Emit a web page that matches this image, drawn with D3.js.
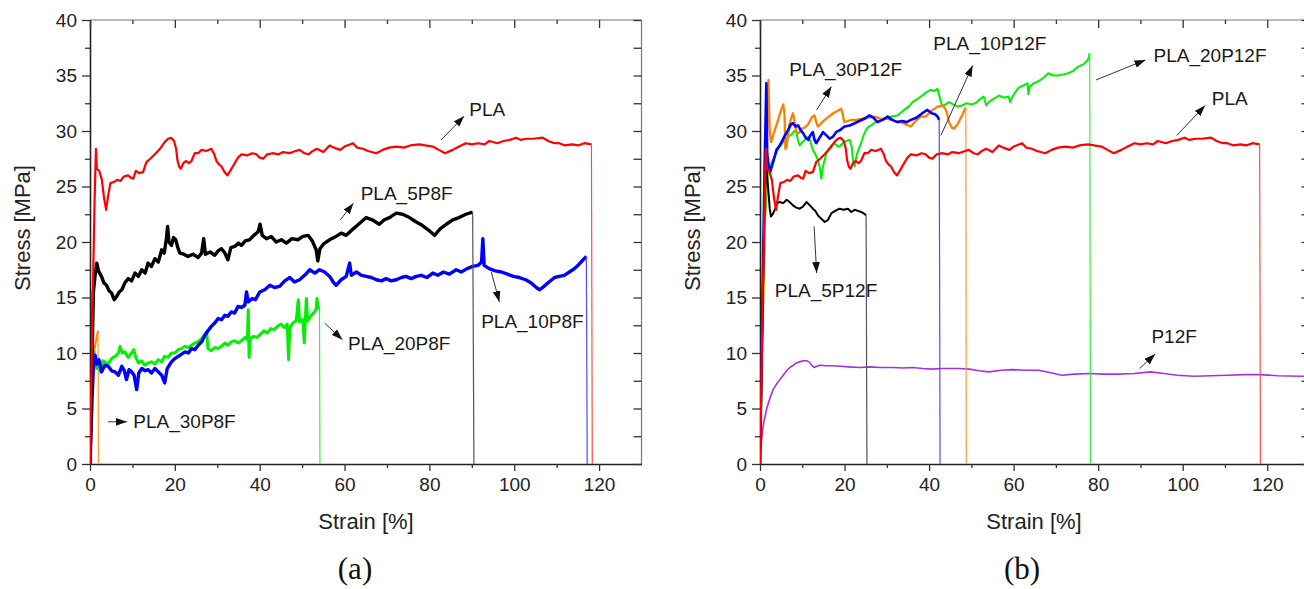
<!DOCTYPE html>
<html>
<head>
<meta charset="utf-8">
<script src="https://cdn.jsdelivr.net/npm/d3@7/dist/d3.min.js"></script>
<style>
  body { margin: 0; background: #fff; }
  svg { display: block; font-family: 'Liberation Sans', Arial, sans-serif; }
</style>
</head>
<body>
<svg id="chart" width="1304" height="589"></svg>
<script>
// ---- data: [strain %, stress MPa] ----
const yMajor = [0, 5, 10, 15, 20, 25, 30, 35, 40]
const yMinor = [2.5, 7.5, 12.5, 17.5, 22.5, 27.5, 32.5, 37.5]
const xMajor = [0, 20, 40, 60, 80, 100, 120]
const xMinor = [10, 30, 50, 70, 90, 110]

// neat PLA, same specimen in both panels
const pla = [[0,0],[0.6,14],[1.1,24],[1.4,28.4],[1.6,26.6],[2.2,26.4],[2.8,25.6],[3.3,24.0],[3.8,22.9],
  [4.3,24.2],[4.8,25.3],[5.6,25.4],[6.4,25.6],[7.2,25.5],[8.0,25.9],[9.0,26.0],[9.6,25.8],[10.2,25.7],
  [10.8,26.4],[11.6,26.2],[12.5,26.3],[13.3,27.2],[14.2,27.5],[15.3,27.9],[16.5,28.4],[17.6,29.0],
  [18.4,29.3],[19.1,29.4],[19.8,29.1],[20.3,28.4],[20.6,27.4],[21.0,26.8],[21.4,26.6],[22.0,27.1],
  [22.6,27.3],[23.3,27.1],[23.9,27.3],[24.7,28.0],[25.5,28.0],[26.3,28.3],[27.4,28.2],[28.6,28.4],
  [29.3,27.9],[29.8,27.3],[30.4,27.0],[31.0,26.8],[31.7,26.3],[32.4,26.0],[33.2,26.5],[34.1,27.1],
  [34.9,27.6],[35.7,27.9],[37,27.8],[38.2,28.0],[39.2,27.9],[40.0,27.6],[40.8,27.5],[41.8,27.9],
  [43,28.0],[44.5,27.9],[45.5,28.1],[47,28.0],[48.5,28.2],[49.4,28.3],[50.5,28.0],[51.5,27.9],
  [52.5,28.2],[53.5,28.4],[55,28.1],[56.5,28.7],[57.5,28.5],[59,28.3],[60,28.6],[62,28.9],[63,28.5],
  [64.3,28.4],[65.5,28.2],[67.5,28.0],[69,28.3],[70.5,28.5],[72.2,28.6],[74,28.5],[75.5,28.7],
  [77.6,28.8],[79,28.7],[80.8,28.6],[82.2,28.3],[83.7,28.0],[85.5,28.3],[87,28.6],[88.6,28.9],
  [90,28.8],[91.5,28.9],[93,28.8],[94.1,29.1],[96,28.9],[97.5,29.1],[99,29.2],[100.4,29.4],
  [101.5,29.2],[103,29.3],[104.5,29.3],[106.7,29.4],[108,29.1],[109.5,28.9],[110.6,28.9],
  [112,28.7],[113.7,28.8],[115,28.7],[116.5,28.9],[118.2,28.8],[118.4,0]]

// panel (a)
const pla5p8f = [[0,0],[0.4,8],[0.8,15.5],[1.2,17.0],[1.6,18.1],[2.0,17.4],[2.7,16.9],[3.3,16.3],
  [3.9,16.1],[4.5,15.6],[5.1,15.4],[5.7,14.8],[6.3,15.1],[6.9,15.5],[7.5,15.7],[8.2,16.3],[9.0,16.7],
  [9.8,16.5],[10.6,17.2],[11.4,16.9],[12.2,17.5],[13.0,17.2],[13.7,18.1],[14.5,17.8],[15.3,18.5],
  [16.1,18.2],[16.9,19.3],[17.5,19.0],[18.0,20.3],[18.3,21.4],[18.6,20.0],[19.2,19.7],[19.7,20.4],
  [20.2,20.2],[20.7,19.5],[21.2,19.0],[22.1,18.9],[23.1,18.7],[24.3,18.9],[25.5,18.6],[26.3,19.0],
  [26.8,20.3],[27.2,18.9],[28.3,19.1],[29.4,18.8],[30.2,19.2],[31.0,19.4],[31.8,19.0],[32.5,18.4],
  [33.2,19.5],[34.1,19.6],[35.0,19.9],[35.7,19.7],[36.6,20.1],[37.6,20.2],[38.6,20.6],[39.6,20.9],
  [40.1,21.6],[40.6,20.6],[41.6,20.3],[42.7,20.5],[43.9,20.0],[45.1,20.2],[46.3,19.9],[47.6,20.3],
  [49.0,20.2],[50.2,20.5],[51.4,20.6],[52.4,20.1],[53.3,19.3],[53.7,18.3],[54.2,19.4],[55.0,19.8],
  [55.7,20.0],[56.9,20.3],[58.0,20.5],[59.2,20.8],[60.4,20.6],[61.5,21.0],[62.7,21.4],[63.9,21.8],
  [65.1,22.2],[66.5,22.0],[68.2,21.6],[69.4,22.0],[70.6,22.2],[72.2,22.6],[73.7,22.5],[75.3,22.2],
  [76.9,21.8],[78.3,21.5],[79.7,21.1],[81.2,20.6],[82.6,21.2],[84.0,21.6],[85.5,22.0],[87.0,22.2],
  [88.6,22.5],[90.2,22.7],[90.5,0]]

const pla10p8f = [[0,0],[0.5,6],[0.9,9.6],[1.2,9.8],[1.6,9.0],[2.1,9.4],[2.7,8.3],[3.5,8.9],[4.3,8.8],
  [5.1,8.4],[5.9,8.3],[6.7,8.0],[7.5,8.8],[8.1,8.4],[8.6,7.6],[9.2,8.5],[9.8,8.3],[10.4,8.0],[11.0,6.7],
  [11.5,8.2],[12.2,8.6],[13.0,8.4],[13.7,8.5],[14.5,8.2],[15.3,8.6],[16.1,8.3],[16.9,8.0],[17.6,7.3],
  [18.2,8.6],[19.2,9.2],[20.0,9.5],[20.8,9.7],[21.6,9.9],[22.4,10.1],[23.2,10.0],[23.9,10.4],
  [24.7,10.3],[25.5,10.7],[26.3,11.0],[27.1,11.6],[27.8,12.0],[28.6,12.4],[29.4,12.7],[30.2,13.1],
  [31.0,13.0],[31.8,13.4],[32.5,13.3],[33.3,13.7],[34.1,13.6],[34.9,14.2],[35.7,14.1],[36.5,14.3],
  [36.9,15.5],[37.3,14.6],[38.2,14.9],[39.0,14.8],[40.0,15.5],[41.2,15.7],[42.4,16.1],[43.5,15.9],
  [44.7,16.0],[45.9,16.5],[47.1,16.8],[48.2,16.4],[49.4,16.6],[50.6,17.0],[51.8,17.5],[53.0,17.2],
  [54.1,17.5],[55.3,17.3],[56.5,16.9],[57.3,16.4],[58.0,16.1],[59.2,16.6],[60.4,16.9],[61.2,18.1],
  [61.6,17.0],[62.8,17.3],[64.0,17.0],[65.1,16.9],[66.3,16.8],[67.5,16.6],[68.7,16.5],[69.8,16.7],
  [71.0,16.5],[72.2,16.6],[73.4,16.8],[74.5,16.9],[75.7,16.7],[76.9,16.9],[78.1,17.0],[79.4,16.8],
  [80.8,17.2],[82.0,17.0],[83.3,17.3],[84.7,17.1],[86.3,17.5],[87.5,17.3],[88.9,17.6],[90.2,17.8],
  [91.5,17.9],[92.3,18.2],[92.6,20.3],[92.9,17.9],[94.1,17.6],[95.5,17.4],[97.0,17.3],[98.4,17.1],
  [99.8,16.9],[101.2,16.8],[102.7,16.6],[104.0,16.3],[105.2,15.9],[106.0,15.7],[107.0,16.0],
  [108.2,16.4],[109.5,16.8],[110.6,16.9],[111.8,17.0],[113.0,17.3],[114.2,17.6],[115.3,18.0],
  [116.5,18.5],[117.0,18.7],[117.2,0]]

const pla20p8f = [[0,0],[0.4,7],[0.8,10.3],[1.2,9.5],[1.6,8.6],[2.0,8.9],[2.6,8.3],[3.0,9.3],[3.5,9.2],
  [4.2,9.0],[5.1,9.5],[5.9,9.7],[6.7,10.0],[7.1,10.6],[7.6,10.0],[8.2,10.1],[9.0,9.6],[9.8,10.0],
  [10.3,10.3],[10.8,9.6],[11.4,9.1],[12.1,9.3],[12.9,8.9],[13.7,9.1],[14.5,9.2],[15.3,9.0],[16.1,9.4],
  [16.9,9.2],[17.6,9.7],[18.4,9.6],[19.2,10.0],[20.0,10.0],[20.8,10.3],[21.6,10.4],[22.4,10.6],
  [23.2,10.5],[23.9,10.7],[24.7,10.9],[25.5,11.0],[26.3,11.3],[27.1,11.7],[27.5,11.9],[27.8,10.4],
  [28.6,10.2],[29.4,10.5],[30.2,10.4],[31.0,10.6],[31.8,10.9],[32.5,10.7],[33.3,11.0],[34.1,11.1],
  [34.9,10.9],[35.7,11.1],[36.5,11.4],[37.1,11.2],[37.3,13.9],[37.5,9.6],[37.8,11.3],[38.6,11.5],
  [39.4,11.4],[40.2,11.7],[41.0,12.0],[41.8,11.8],[42.6,12.2],[43.4,12.1],[44.2,12.4],[45.0,12.6],
  [45.8,12.3],[46.5,12.6],[46.8,9.4],[47.1,12.2],[47.8,12.7],[48.6,12.9],[49.1,14.8],[49.4,12.8],
  [50.2,13.0],[50.5,10.9],[51.0,14.9],[51.3,12.9],[52.0,13.3],[52.7,13.6],[53.3,13.9],[53.5,14.9],
  [53.8,14.1],[54.1,14.0],[54.2,0]]

const pla30p8f = [[0,0],[0.5,8.5],[1.0,10.2],[1.5,11.3],[1.9,12.0],[2.0,0]]

// panel (b)
const pla5p12f = [[0,0],[0.6,14],[1.1,24],[1.5,26.8],[1.9,25.0],[2.3,23.0],[2.6,22.3],[3.0,22.5],
  [3.5,22.9],[4.1,23.5],[4.7,23.6],[5.5,23.5],[6.3,23.8],[7.0,23.6],[7.8,23.3],[8.6,23.1],[9.4,23.0],
  [10.2,23.2],[11.0,23.6],[11.8,23.3],[12.5,23.0],[13.1,22.8],[13.7,22.4],[14.5,22.1],[15.3,21.8],
  [16.1,22.0],[16.9,22.6],[17.8,22.8],[18.8,23.0],[19.8,22.9],[20.8,23.0],[21.6,22.7],[22.4,22.9],
  [23.2,22.8],[23.9,22.7],[24.5,22.6],[25.1,22.4],[25.3,0]]

const pla10p12f = [[0,0],[0.6,15],[1.1,27],[1.5,34.3],[1.7,28],[2.0,27.0],[2.4,26.3],[3.1,27.2],
  [3.9,28.3],[4.5,28.6],[5.1,29.0],[5.9,29.6],[6.7,30.1],[7.3,30.6],[7.8,30.7],[8.4,30.4],[9.0,30.5],
  [9.6,30.1],[10.2,29.8],[10.8,29.4],[11.4,29.2],[11.9,29.6],[12.5,29.9],[12.9,29.2],[13.3,28.9],
  [14.1,29.4],[14.9,29.9],[15.7,29.6],[16.5,29.3],[17.3,29.5],[18.0,29.9],[19.0,30.1],[20.0,30.4],
  [21.2,30.5],[22.4,30.7],[23.5,30.9],[24.7,31.1],[25.9,31.4],[26.8,31.2],[27.8,30.8],[29.0,31.0],
  [30.2,31.3],[31.3,31.0],[32.5,30.8],[33.6,30.9],[34.7,30.8],[35.7,31.0],[37.0,31.2],[38.4,31.6],
  [39.6,31.9],[40.6,31.6],[41.4,31.5],[42.0,31.3],[42.4,31.0],[42.6,0]]

const pla20p12f = [[0,0],[0.6,12],[1.2,22],[1.9,26.5],[2.7,27.1],[3.5,27.7],[4.3,28.4],[5.1,28.8],
  [5.9,29.2],[6.7,29.5],[7.5,29.7],[8.1,30.0],[8.6,29.9],[9.0,29.1],[9.4,28.7],[10.0,29.0],[10.6,29.2],
  [11.4,29.5],[11.9,29.1],[12.5,28.3],[13.1,27.9],[13.7,27.4],[14.2,26.6],[14.5,25.7],[14.9,26.8],
  [15.3,27.4],[15.7,28.0],[16.1,28.3],[16.9,28.7],[17.6,28.9],[18.4,28.6],[18.8,28.6],[19.6,28.9],
  [20.4,29.1],[21.2,29.2],[21.7,28.6],[22.0,27.4],[22.4,26.8],[22.7,27.5],[23.1,28.1],[23.9,28.9],
  [24.5,29.6],[25.1,30.1],[25.7,30.4],[26.3,30.5],[27.4,30.8],[28.6,31.0],[29.8,31.1],[31.0,31.3],
  [32.5,31.4],[34.1,31.9],[35.2,32.2],[36.1,32.6],[37.3,32.9],[38.4,33.2],[39.4,33.5],[40.4,33.7],
  [41.2,33.6],[42.0,33.8],[42.4,33.2],[43.1,32.2],[43.9,32.4],[44.7,32.6],[45.7,32.4],[46.8,32.2],
  [47.8,32.3],[48.9,32.5],[50.0,32.4],[51.0,32.5],[51.8,32.8],[52.9,33.1],[53.5,32.3],[54.1,32.6],
  [55.3,32.9],[56.5,33.2],[57.7,33.0],[58.8,33.1],[59.2,32.6],[59.6,33.0],[60.4,33.5],[61.2,33.9],
  [62.3,34.1],[63.3,34.3],[63.5,33.3],[63.8,34.0],[64.8,34.3],[65.9,34.5],[67.1,34.8],[68.2,35.2],
  [69.4,35.0],[70.6,35.0],[71.8,35.1],[72.9,35.2],[74.1,35.4],[75.3,35.8],[76.5,36.0],[77.6,36.4],
  [78.0,37.0],[78.2,0]]

const pla30p12f = [[0,0],[0.7,14],[1.4,27],[2.0,34.6],[2.3,30],[2.6,29.0],[3.1,29.6],[3.7,30.3],
  [4.3,31.0],[4.9,31.8],[5.5,32.4],[5.8,31.5],[6.0,28.4],[6.3,28.6],[6.9,30.5],[7.5,31.3],[7.8,31.6],
  [8.2,30.8],[8.6,29.9],[9.2,29.8],[9.8,30.2],[10.6,30.3],[11.4,30.6],[12.2,31.2],[12.9,31.4],
  [13.3,30.8],[13.7,30.4],[14.5,30.7],[15.3,31.0],[16.3,31.3],[17.3,31.6],[18.3,31.8],[19.2,32.0],
  [19.6,31.5],[19.9,30.8],[20.8,30.9],[21.6,31.0],[22.8,31.0],[23.9,31.1],[25.5,31.2],[27.1,31.3],
  [28.6,31.1],[30.2,31.1],[31.8,30.9],[33.3,30.8],[34.5,30.6],[35.7,30.4],[36.8,30.9],[38.0,31.3],
  [39.2,31.3],[40.5,31.8],[42.0,32.2],[43.4,32.3],[44.2,31.7],[44.7,30.8],[45.4,30.3],[45.9,30.2],
  [46.7,30.6],[47.4,31.1],[47.8,31.4],[48.4,31.9],[48.7,32.1],[48.8,0]]

const p12f = [[0,0.9],[0.8,3.6],[1.6,5.0],[2.4,6.0],[3.1,6.7],[3.9,7.2],[4.7,7.6],[5.5,8.0],[6.3,8.4],
  [7.1,8.7],[7.9,8.9],[8.6,9.1],[9.4,9.2],[10.2,9.3],[11.0,9.3],[11.6,9.2],[12.2,8.9],[12.8,8.7],
  [13.5,8.8],[14.1,8.9],[15.7,8.85],[17.3,8.85],[19.0,8.8],[21.0,8.75],[23.5,8.7],[26.0,8.75],
  [28.5,8.7],[31.4,8.7],[33.7,8.65],[36.1,8.7],[38.5,8.6],[40.8,8.55],[43.0,8.6],[45.0,8.6],
  [47.1,8.6],[49.5,8.55],[51.8,8.4],[54.1,8.3],[56.9,8.45],[59.6,8.5],[62.7,8.45],[65.9,8.45],
  [68.5,8.25],[71.4,8.0],[74.5,8.1],[77.6,8.15],[81.2,8.1],[84.7,8.1],[88.6,8.15],[92.5,8.3],
  [95.5,8.15],[98.8,8.0],[102.7,7.9],[106.7,7.95],[110.6,8.0],[114.5,8.05],[118.4,8.05],
  [122.5,7.95],[127.8,7.9],[131,7.9]]

// label text, anchor [strain, stress], arrow from -> to
const notesA = [
  {text: 'PLA', at: [89.4, 31.9], from: [82.8, 29.2], to: [88.2, 31.35]},
  {text: 'PLA_5P8F', at: [63.8, 24.4], from: [59.0, 22.0], to: [62.1, 23.5]},
  {text: 'PLA_10P8F', at: [92.2, 12.8], from: [94.6, 17.3], to: [96.5, 14.6]},
  {text: 'PLA_20P8F', at: [60.8, 10.9], from: [55.3, 12.7], to: [59.5, 11.2]},
  {text: 'PLA_30P8F', at: [10.2, 3.8], from: [4.2, 3.8], to: [8.7, 3.8]}
]
const notesB = [
  {text: 'PLA_30P12F', at: [6.9, 35.5], from: [13.4, 31.9], to: [16.9, 34.0]},
  {text: 'PLA_10P12F', at: [41.0, 37.9], from: [42.8, 29.6], to: [50.3, 35.9]},
  {text: 'PLA_20P12F', at: [93.1, 36.8], from: [79.5, 34.6], to: [91.2, 36.4]},
  {text: 'PLA', at: [106.9, 32.9], from: [98.6, 29.6], to: [105.3, 32.3]},
  {text: 'PLA_5P12F', at: [3.5, 15.6], from: [12.8, 21.4], to: [13.4, 17.2]},
  {text: 'P12F', at: [92.6, 11.5], from: [89.8, 8.6], to: [93.5, 9.9]}
]

const svg = d3.select('#chart')

svg.append('defs').append('marker')
  .attr('id', 'arrow')
  .attr('viewBox', '0 0 10 7')
  .attr('refX', 10).attr('refY', 3.5)
  .attr('markerUnits', 'userSpaceOnUse')
  .attr('markerWidth', 11).attr('markerHeight', 8)
  .attr('orient', 'auto')
  .append('path')
  .attr('d', 'M0,0 L10,3.5 L0,7 Z')
  .attr('fill', '#111')

function drawPanel (cfg) {
  const x = d3.scaleLinear().domain([0, 130]).range([cfg.x0, cfg.x1])
  const y = d3.scaleLinear().domain([0, 40]).range([464, 20])
  const g = svg.append('g')

  g.append('clipPath').attr('id', 'clip' + cfg.id)
    .append('rect')
    .attr('x', cfg.x0).attr('y', 18)
    .attr('width', cfg.x1 - cfg.x0).attr('height', 448)

  // frame (top and right mirror sides)
  g.append('line')
    .attr('x1', cfg.x0).attr('x2', cfg.x1).attr('y1', 20).attr('y2', 20)
    .attr('stroke', '#777').attr('stroke-width', 1.2)
  g.append('line')
    .attr('x1', cfg.x1).attr('x2', cfg.x1).attr('y1', 20).attr('y2', 464)
    .attr('stroke', '#777').attr('stroke-width', 1.2)

  const styleAxis = sel => {
    sel.selectAll('.domain').attr('stroke', '#222').attr('stroke-width', 1.6)
    sel.selectAll('.tick line').attr('stroke', '#333').attr('stroke-width', 1.3)
    sel.selectAll('.tick text')
      .attr('fill', '#222')
      .style('font-size', '19px')
      .style('font-family', "'Liberation Sans', Arial, sans-serif")
  }

  // left axis (outward ticks)
  g.append('g').attr('transform', `translate(${cfg.x0},0)`)
    .call(d3.axisLeft(y).tickValues(yMajor).tickSize(8).tickSizeOuter(0).tickPadding(5))
    .call(styleAxis)
  g.append('g').attr('transform', `translate(${cfg.x0},0)`)
    .call(d3.axisLeft(y).tickValues(yMinor).tickSize(5).tickFormat(''))
    .call(styleAxis).call(s => s.select('.domain').remove())

  // bottom axis (outward ticks)
  g.append('g').attr('transform', 'translate(0,464)')
    .call(d3.axisBottom(x).tickValues(xMajor).tickSize(7).tickSizeOuter(0).tickPadding(7))
    .call(styleAxis)
  g.append('g').attr('transform', 'translate(0,464)')
    .call(d3.axisBottom(x).tickValues(xMinor).tickSize(4).tickFormat(''))
    .call(styleAxis).call(s => s.select('.domain').remove())

  // top mirror ticks point down into the plot
  g.append('g').attr('transform', 'translate(0,20)')
    .call(d3.axisBottom(x).tickValues(xMajor).tickSize(8).tickFormat(''))
    .call(styleAxis).call(s => s.select('.domain').remove())
  g.append('g').attr('transform', 'translate(0,20)')
    .call(d3.axisBottom(x).tickValues(xMinor).tickSize(4).tickFormat(''))
    .call(styleAxis).call(s => s.select('.domain').remove())

  // right mirror ticks point left into the plot
  g.append('g').attr('transform', `translate(${cfg.x1},0)`)
    .call(d3.axisLeft(y).tickValues(yMajor.concat(yMinor)).tickSize(8).tickFormat(''))
    .call(styleAxis).call(s => s.select('.domain').remove())

  // axis titles
  g.append('text')
    .attr('transform', `translate(${cfg.titleX},228) rotate(-90)`)
    .attr('text-anchor', 'middle').attr('dominant-baseline', 'central')
    .style('font-size', '22px').attr('fill', '#222')
    .text('Stress [MPa]')
  g.append('text')
    .attr('x', cfg.stX).attr('y', 521)
    .attr('text-anchor', 'middle').attr('dominant-baseline', 'central')
    .style('font-size', '22px').attr('fill', '#222')
    .text('Strain [%]')
  g.append('text')
    .attr('x', cfg.tagX).attr('y', 568)
    .attr('text-anchor', 'middle').attr('dominant-baseline', 'central')
    .style('font-family', "'Liberation Serif', 'Times New Roman', serif")
    .style('font-size', '31px').attr('fill', '#111')
    .text(cfg.tag)

  // curves
  const line = d3.line().x(d => x(d[0])).y(d => y(d[1]))
  const plot = g.append('g').attr('clip-path', `url(#clip${cfg.id})`)
  cfg.series.forEach(s => {
    const body = s.drop ? s.data.slice(0, -1) : s.data
    plot.append('path')
      .datum(body)
      .attr('fill', 'none')
      .attr('stroke', s.color)
      .attr('stroke-width', s.width)
      .attr('stroke-linejoin', 'round')
      .attr('d', line)
    if (s.drop) {
      plot.append('path')
        .datum(s.data.slice(-2))
        .attr('fill', 'none')
        .attr('stroke', s.dropColor)
        .attr('stroke-width', 1.2)
        .attr('d', line)
    }
  })

  // annotations
  cfg.notes.forEach(n => {
    g.append('line')
      .attr('x1', x(n.from[0])).attr('y1', y(n.from[1]))
      .attr('x2', x(n.to[0])).attr('y2', y(n.to[1]))
      .attr('stroke', '#333').attr('stroke-width', 1)
      .attr('marker-end', 'url(#arrow)')
    g.append('text')
      .attr('x', x(n.at[0])).attr('y', y(n.at[1]))
      .attr('dominant-baseline', 'central')
      .style('font-size', '19px').attr('fill', '#1a1a1a')
      .text(n.text)
  })
}

drawPanel({
  id: 'a', x0: 90, x1: 641.5, titleX: 22, tag: '(a)', tagX: 355, stX: 366,
  notes: notesA,
  series: [
    {data: pla30p8f, color: '#ff8000', dropColor: '#ff9a33', width: 2, drop: true},
    {data: pla20p8f, color: '#00f000', dropColor: '#3cf03c', width: 3, drop: true},
    {data: pla10p8f, color: '#0000ff', dropColor: '#4d4dff', width: 3.4, drop: true},
    {data: pla5p8f, color: '#000000', dropColor: '#555555', width: 3.4, drop: true},
    {data: pla, color: '#ff0000', dropColor: '#ff4d4d', width: 2.2, drop: true}
  ]
})

drawPanel({
  id: 'b', x0: 760, x1: 1309.5, titleX: 692, tag: '(b)', tagX: 1022, stX: 1034,
  notes: notesB,
  series: [
    {data: p12f, color: '#a632dc', width: 1.6, drop: false},
    {data: pla20p12f, color: '#00f000', dropColor: '#3cf03c', width: 2, drop: true},
    {data: pla30p12f, color: '#ff8000', dropColor: '#ff9a33', width: 2.3, drop: true},
    {data: pla10p12f, color: '#0000ff', dropColor: '#4d4dff', width: 2.6, drop: true},
    {data: pla5p12f, color: '#000000', dropColor: '#555555', width: 2, drop: true},
    {data: pla, color: '#ff0000', dropColor: '#ff4d4d', width: 2.2, drop: true}
  ]
})
</script>
</body>
</html>
